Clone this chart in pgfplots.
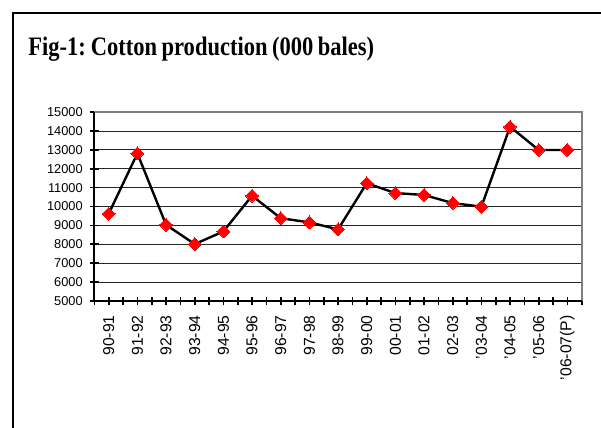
\documentclass[border=0pt]{standalone}
\usepackage{fontspec}
\setmainfont{Liberation Sans}
\newfontfamily\titlefont{Liberation Serif}
\usepackage{pgfplots}
\pgfplotsset{compat=1.18}
\newsavebox\tbox
\begin{document}
\sbox\tbox{\titlefont\bfseries\fontsize{20}{22}\selectfont\spaceskip=0.2em\xspaceskip=0.22em Fig-1: Cotton production (000 bales)}%
\pgfmathsetmacro\sx{259.5/\wd\tbox}%
\begin{tikzpicture}
\clip (0pt,0pt) rectangle (450.75pt,-321pt);
\path (0pt,0pt) rectangle (450.75pt,-321pt);
\fill[white] (0pt,0pt) rectangle (450.75pt,-321pt);
\draw[line width=1.5pt] (9.75pt,-330pt) -- (9.75pt,-9.75pt) -- (460pt,-9.75pt);
\node[anchor=base west, inner sep=0pt] at (21pt,-41.5pt) {\scalebox{\sx}[1]{\usebox\tbox}};
\begin{axis}[
  at={(70.8pt,-84pt)}, anchor=north west,
  width=365.5pt, height=141.75pt, scale only axis,
  xmin=-0.5, xmax=16.5, ymin=5000, ymax=15000,
  xtick={0,...,16},
  xticklabels={90-91,91-92,92-93,93-94,94-95,95-96,96-97,97-98,98-99,99-00,00-01,01-02,02-03,{\char39}03-04,{\char39}04-05,{\char39}05-06,{\char39}06-07(P)},
  minor xtick={-0.5,0.5,...,16.5},
  ytick={5000,6000,...,15000},
  scaled ticks=false,
  xtick pos=bottom, ytick pos=left,
  tick align=center, major tick length=6.5pt, minor tick length=6.5pt,
  tick style={black, line width=1.3pt},
  ymajorgrids, grid style={black!85, line width=0.6pt},
  axis line style={draw=none},
  /pgf/number format/1000 sep={},
  /pgf/number format/assume math mode=true,
  yticklabel style={font=\fontsize{9.6}{11}\selectfont, xshift=-2pt},
  xticklabel style={font=\fontsize{11.8}{14}\selectfont, rotate=90, anchor=east},
  xticklabel shift=4pt,
  clip=false,
  after end axis/.code={
    \draw[gray, line width=1.2pt] (rel axis cs:0,1) -- (rel axis cs:1,1) -- (rel axis cs:1,0);
    \draw[black, line width=1.5pt] (rel axis cs:0,1) -- (rel axis cs:0,0) -- (rel axis cs:1,0);
  },
]
\addplot[black, line width=1.8pt, mark=square*, mark size=3.4pt,
  mark options={rotate=45, fill=red, draw=red, line width=0pt}]
coordinates {
(0,9620) (1,12810) (2,9030) (3,8010) (4,8680) (5,10570) (6,9380) (7,9160) (8,8790)
(9,11230) (10,10710) (11,10610) (12,10180) (13,9990) (14,14220) (15,12990) (16,12990)
};
\end{axis}
\end{tikzpicture}
\end{document}
